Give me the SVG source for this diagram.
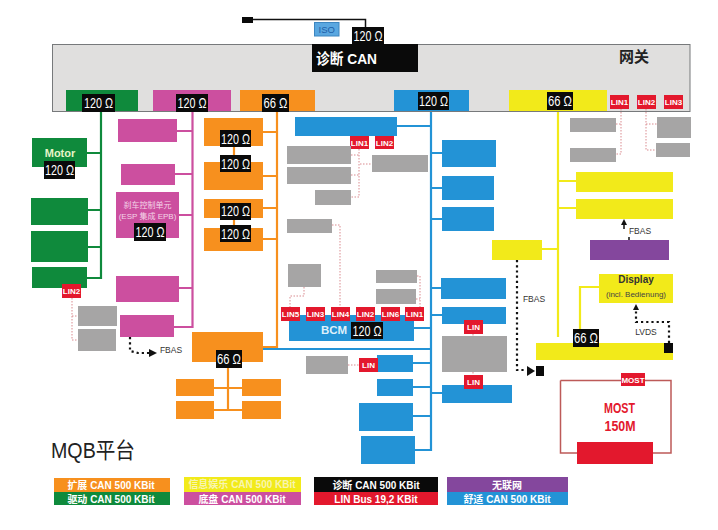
<svg xmlns="http://www.w3.org/2000/svg" width="718" height="530" viewBox="0 0 718 530">
<style>
text{font-family:"Liberation Sans","Noto Sans CJK SC",sans-serif;text-anchor:middle}
.gn{fill:#0f8a3c}.pk{fill:#cc4f9f}.or{fill:#f7901e}.bl{fill:#2393d6}.ye{fill:#f2ea1a}.gr{fill:#a6a5a5}.rd{fill:#e3182d}.bk{fill:#0a0a0a}.pu{fill:#84479d}
.r{font-size:14px;fill:#fff}
.l{font-size:8px;font-weight:bold;fill:#fff}
.c{font-size:8.5px;fill:#333}
.w{font-size:11px;font-weight:bold;fill:#fff}
.lg{font-size:10px;font-weight:bold;fill:#fff}
.m{font-size:15px;font-weight:bold;fill:#e3182d}
.bus{fill:none;stroke-width:2.2}
.sg{stroke:#0f8a3c}.sp{stroke:#cc4f9f}.so{stroke:#f7901e}.sb{stroke:#2393d6}.sy{stroke:#f2ea1a}
.dot{fill:none;stroke:#d98a8f;stroke-width:1;stroke-dasharray:1.5 1.5}
.blk{fill:none;stroke:#111;stroke-width:2.2;stroke-dasharray:2.2 3}
</style>
<defs>
<marker id="ah" markerUnits="userSpaceOnUse" markerWidth="8" markerHeight="8" refX="7" refY="4" orient="auto"><path d="M0 0L8 4L0 8Z" fill="#111"/></marker>
</defs>

<g id="gateway">
<rect x="52.500" y="44.500" width="637.500" height="67" fill="#e0dfde" stroke="#77797b"/>
<text x="634" y="62" font-size="15" font-weight="bold" fill="#222">网关</text>
</g>

<g id="connectors">
<path d="M253 19.500H365.500V27" fill="none" stroke="#111" stroke-width="1.500"/>
<path class="bus sg" d="M101 112V278H87M87 153H101M88 210H101M88 247H101"/>
<path class="bus sp" d="M192.500 112V327H174M177 131H192.500M175 174H192.500M179 215H192.500M179 288H192.500"/>
<path class="bus so" d="M277 112V347H263M263 132H277M263 176H277M263 208H277M263 239H277M234 146V155M234 218V226"/>
<path class="bus so" d="M228 368V411M214 388H242M214 410H242"/>
<path class="bus sb" d="M431 112V450H415M397 126H431M431 153H442M431 188H442M431 219H442M431 288H441M431 315H442M431 393H442M263 349H431M414 328H431M413 363H431M413 387H431M413 416H431"/>
<path class="bus sy" d="M558 112V337M558 181H576M558 208H576M542 249H558M580 329V287H599"/>
<path class="dot" d="M72 298V340H78M72 316H78"/>
<path class="dot" d="M359 149V197H351M351 155H359M351 175H359M360 164H372M332 225H340V307"/>
<path class="dot" d="M304 287V296H290V307M417 276H420V307M416 299H420M348 365H359M473 334V336M473 372V374"/>
<path class="dot" d="M621 109V154H616M616 124H621M646 109V150H656M646 124H657"/>
<path class="blk" d="M130 337V351L138 353H156" marker-end="url(#ah)"/>
<path class="blk" d="M517 260V370H526"/>
<path d="M527 366L535 371L527 376Z" fill="#111"/>
<path class="blk" d="M669 343V322H636V309"/>
<path d="M636 304L633 310H639Z" fill="#111"/>
<path d="M624 219L621 225H627Z" fill="#111"/>
<path d="M624 225V229M629 237V240" stroke="#111" stroke-width="1.500"/>
<path d="M560.500 380.500H671V453H653M577 453H560.500V380.500" fill="none" stroke="#bd5a58" stroke-width="1.500"/>
</g>

<g id="diag-end"><rect class="bk" x="242" y="17" width="11" height="6"/></g>
<g id="iso"><rect x="314.500" y="22.500" width="24.500" height="13.500" fill="#5aa7e0" stroke="#3d86c0"/><text x="326.800" y="33" font-size="9.500" fill="#1f5fa8">ISO</text></g>
<g id="diag-can">
<rect class="bk" x="352" y="27" width="32" height="17"/><text class="r" x="368" y="41" textLength="29" lengthAdjust="spacingAndGlyphs">120 Ω</text>
<rect class="bk" x="312" y="44" width="106" height="28"/><text x="346.500" y="64" font-size="15" font-weight="bold" fill="#fff" textLength="61" lengthAdjust="spacingAndGlyphs">诊断 CAN</text>
</g>

<g id="gw-green"><rect class="gn" x="66" y="90" width="72" height="21"/><rect class="bk" x="82" y="94" width="33" height="18"/><text class="r" x="98.500" y="108" textLength="29" lengthAdjust="spacingAndGlyphs">120 Ω</text></g>
<g id="gw-pink"><rect class="pk" x="153" y="90" width="78" height="21"/><rect class="bk" x="176" y="94" width="32" height="18"/><text class="r" x="192" y="108" textLength="29" lengthAdjust="spacingAndGlyphs">120 Ω</text></g>
<g id="gw-orange"><rect class="or" x="240" y="90" width="75" height="21"/><rect class="bk" x="262" y="94" width="27" height="18"/><text class="r" x="275.500" y="108" textLength="24" lengthAdjust="spacingAndGlyphs">66 Ω</text></g>
<g id="gw-blue"><rect class="bl" x="394" y="90" width="75" height="21"/><rect class="bk" x="418" y="92" width="31" height="18"/><text class="r" x="433.500" y="106" textLength="29" lengthAdjust="spacingAndGlyphs">120 Ω</text></g>
<g id="gw-yellow"><rect class="ye" x="509" y="90" width="98" height="21"/><rect class="bk" x="547" y="92" width="26" height="18"/><text class="r" x="560" y="106" textLength="24" lengthAdjust="spacingAndGlyphs">66 Ω</text></g>
<g id="gw-lin1"><rect class="rd" x="610" y="95" width="19" height="14"/><text class="l" x="619.500" y="105">LIN1</text></g>
<g id="gw-lin2"><rect class="rd" x="637" y="95" width="19" height="14"/><text class="l" x="646.500" y="105">LIN2</text></g>
<g id="gw-lin3"><rect class="rd" x="664" y="95" width="19" height="14"/><text class="l" x="673.500" y="105">LIN3</text></g>

<g id="motor"><rect class="gn" x="32" y="138" width="55" height="29"/><text class="w" x="60" y="157" style="fill:#e8f5c8">Motor</text><rect class="bk" x="44" y="161" width="31" height="18"/><text class="r" x="59.500" y="175" textLength="29" lengthAdjust="spacingAndGlyphs">120 Ω</text></g>
<g id="green-2"><rect class="gn" x="31" y="198" width="57" height="27"/></g>
<g id="green-3"><rect class="gn" x="31" y="231" width="57" height="31"/></g>
<g id="green-4"><rect class="gn" x="32" y="267" width="55" height="21"/><rect class="rd" x="62" y="284" width="19" height="14"/><text class="l" x="71.500" y="294">LIN2</text></g>
<g id="green-lin-a"><rect class="gr" x="78" y="306" width="39" height="20"/></g>
<g id="green-lin-b"><rect class="gr" x="78" y="329" width="38" height="22"/></g>

<g id="pink-1"><rect class="pk" x="118" y="119" width="59" height="23"/></g>
<g id="pink-2"><rect class="pk" x="121" y="164" width="54" height="21"/></g>
<g id="brake"><rect class="pk" x="116" y="192" width="63" height="46"/>
<text x="147.500" y="208" font-size="8" fill="#f4d5e8">刹车控制单元</text><text x="147.500" y="219" font-size="8" fill="#f4d5e8">(ESP 集成 EPB)</text>
<rect class="bk" x="134" y="223" width="32" height="18"/><text class="r" x="150" y="237" textLength="29" lengthAdjust="spacingAndGlyphs">120 Ω</text></g>
<g id="pink-4"><rect class="pk" x="116" y="276" width="63" height="26"/></g>
<g id="pink-5"><rect class="pk" x="120" y="315" width="54" height="22"/></g>
<text class="c" x="171" y="353">FBAS</text>

<g id="or-1"><rect class="or" x="204" y="118" width="59" height="28"/><rect class="bk" x="220" y="130" width="31" height="17"/><text class="r" x="235.500" y="144" textLength="29" lengthAdjust="spacingAndGlyphs">120 Ω</text></g>
<g id="or-2"><rect class="or" x="204" y="162" width="59" height="28"/><rect class="bk" x="220" y="155" width="31" height="17"/><text class="r" x="235.500" y="169" textLength="29" lengthAdjust="spacingAndGlyphs">120 Ω</text></g>
<g id="or-3"><rect class="or" x="204" y="199" width="59" height="19"/><rect class="bk" x="220" y="203" width="31" height="17"/><text class="r" x="235.500" y="216" textLength="29" lengthAdjust="spacingAndGlyphs">120 Ω</text></g>
<g id="or-4"><rect class="or" x="204" y="228" width="59" height="23"/><rect class="bk" x="220" y="225" width="31" height="17"/><text class="r" x="235.500" y="239" textLength="29" lengthAdjust="spacingAndGlyphs">120 Ω</text></g>
<g id="or-hub"><rect class="or" x="192" y="332" width="71" height="30"/><rect class="bk" x="216" y="350" width="26" height="18"/><text class="r" x="229" y="364" textLength="24" lengthAdjust="spacingAndGlyphs">66 Ω</text></g>
<g id="or-a"><rect class="or" x="176" y="379" width="38" height="17"/></g>
<g id="or-b"><rect class="or" x="242" y="379" width="39" height="17"/></g>
<g id="or-c"><rect class="or" x="176" y="401" width="38" height="18"/></g>
<g id="or-d"><rect class="or" x="242" y="401" width="39" height="18"/></g>

<g id="blue-top"><rect class="bl" x="295" y="117" width="102" height="19"/>
<rect class="rd" x="350" y="136" width="19" height="13"/><text class="l" x="359.500" y="145.500">LIN1</text>
<rect class="rd" x="375" y="136" width="19" height="13"/><text class="l" x="384.500" y="145.500">LIN2</text></g>
<g id="gr-1"><rect class="gr" x="287" y="146" width="64" height="18"/></g>
<g id="gr-2"><rect class="gr" x="287" y="167" width="64" height="17"/></g>
<g id="gr-3"><rect class="gr" x="315" y="190" width="36" height="15"/></g>
<g id="gr-4"><rect class="gr" x="372" y="155" width="56" height="17"/></g>
<g id="gr-5"><rect class="gr" x="287" y="219" width="45" height="14"/></g>
<g id="gr-6"><rect class="gr" x="288" y="264" width="33" height="23"/></g>
<g id="gr-7"><rect class="gr" x="376" y="270" width="41" height="13"/></g>
<g id="gr-8"><rect class="gr" x="376" y="289" width="40" height="15"/></g>

<g id="bcm"><rect class="bl" x="289" y="315" width="125" height="26"/>
<text x="334" y="334" font-size="11.500" font-weight="bold" fill="#dff0fa">BCM</text>
<rect class="bk" x="351" y="322" width="32" height="17"/><text class="r" x="367" y="336" textLength="29" lengthAdjust="spacingAndGlyphs">120 Ω</text>
<rect class="rd" x="281" y="307" width="19" height="14"/><text class="l" x="290.500" y="317">LIN5</text>
<rect class="rd" x="306" y="307" width="19" height="14"/><text class="l" x="315.500" y="317">LIN3</text>
<rect class="rd" x="331" y="307" width="19" height="14"/><text class="l" x="340.500" y="317">LIN4</text>
<rect class="rd" x="356" y="307" width="19" height="14"/><text class="l" x="365.500" y="317">LIN2</text>
<rect class="rd" x="381" y="307" width="19" height="14"/><text class="l" x="390.500" y="317">LIN6</text>
<rect class="rd" x="405" y="307" width="19" height="14"/><text class="l" x="414.500" y="317">LIN1</text></g>

<g id="gr-9"><rect class="gr" x="306" y="356" width="42" height="18"/></g>
<g id="bl-a"><rect class="bl" x="377" y="355" width="36" height="17"/><rect class="rd" x="359" y="358" width="19" height="14"/><text class="l" x="368.500" y="368">LIN</text></g>
<g id="bl-b"><rect class="bl" x="377" y="379" width="36" height="17"/></g>
<g id="bl-c"><rect class="bl" x="359" y="403" width="54" height="28"/></g>
<g id="bl-d"><rect class="bl" x="361" y="436" width="54" height="28"/></g>

<g id="br-1"><rect class="bl" x="442" y="140" width="54" height="27"/></g>
<g id="br-2"><rect class="bl" x="442" y="176" width="52" height="24"/></g>
<g id="br-3"><rect class="bl" x="442" y="207" width="52" height="24"/></g>
<g id="br-4"><rect class="bl" x="441" y="278" width="65" height="21"/></g>
<g id="br-5"><rect class="bl" x="442" y="307" width="64" height="17"/><rect class="rd" x="464" y="320" width="19" height="14"/><text class="l" x="473.500" y="330">LIN</text></g>
<g id="br-6"><rect class="gr" x="442" y="336" width="65" height="36"/></g>
<g id="br-7"><rect class="bl" x="442" y="385" width="70" height="18"/><rect class="rd" x="464" y="375" width="19" height="14"/><text class="l" x="473.500" y="385">LIN</text></g>

<g id="yl-gr-1"><rect class="gr" x="570" y="118" width="46" height="14"/></g>
<g id="yl-gr-2"><rect class="gr" x="570" y="148" width="46" height="14"/></g>
<g id="yl-gr-3"><rect class="gr" x="657" y="117" width="34" height="21"/></g>
<g id="yl-gr-4"><rect class="gr" x="656" y="143" width="34" height="14"/></g>
<g id="yl-1"><rect class="ye" x="576" y="172" width="97" height="20"/></g>
<g id="yl-2"><rect class="ye" x="576" y="199" width="97" height="20"/></g>
<text class="c" x="640" y="234">FBAS</text>
<g id="purple"><rect class="pu" x="590" y="240" width="79" height="20"/></g>
<g id="yl-3"><rect class="ye" x="492" y="240" width="50" height="20"/></g>
<text class="c" x="534" y="302">FBAS</text>
<g id="fbas-end"><rect class="bk" x="536" y="366" width="8" height="10"/></g>
<g id="display"><rect class="ye" x="599" y="274" width="74" height="29"/>
<text x="636" y="283" font-size="10" font-weight="bold" fill="#333">Display</text><text x="636" y="297" font-size="8" fill="#444">(incl. Bedienung)</text></g>
<g id="yl-bar"><rect class="ye" x="536" y="343" width="137" height="17"/>
<rect class="bk" x="573" y="329" width="26" height="18"/><text class="r" x="586" y="343" textLength="24" lengthAdjust="spacingAndGlyphs">66 Ω</text>
<rect class="bk" x="664" y="343" width="9" height="10"/></g>
<text class="c" x="646" y="335">LVDS</text>

<g id="most"><rect class="rd" x="621" y="373" width="24" height="13"/><text class="l" x="633" y="383">MOST</text>
<text class="m" x="619.500" y="413" textLength="31" lengthAdjust="spacingAndGlyphs">MOST</text>
<text class="m" x="620" y="431" textLength="31" lengthAdjust="spacingAndGlyphs">150M</text>
<rect class="rd" x="577" y="442" width="76" height="22"/></g>

<text x="93" y="458" font-size="22" fill="#222" textLength="84" lengthAdjust="spacingAndGlyphs">MQB平台</text>

<g id="legend">
<rect class="or" x="54" y="478" width="116" height="14"/><text class="lg" x="111" y="489">扩展 CAN 500 KBit</text>
<rect class="gn" x="54" y="492" width="116" height="13"/><text class="lg" x="111" y="503">驱动 CAN 500 KBit</text>
<rect class="ye" x="184" y="477" width="117" height="15"/><text class="lg" x="242" y="488" style="fill:#f8f5b0">信息娱乐 CAN 500 KBit</text>
<rect class="pk" x="184" y="492" width="117" height="13"/><text class="lg" x="242" y="503">底盘 CAN 500 KBit</text>
<rect class="bk" x="314" y="477" width="124" height="15"/><text class="lg" x="376" y="489">诊断 CAN 500 KBit</text>
<rect class="rd" x="314" y="492" width="124" height="13"/><text class="lg" x="376" y="503">LIN Bus 19,2 KBit</text>
<rect class="pu" x="447" y="477" width="121" height="15"/><text class="lg" x="507" y="489">无联网</text>
<rect class="bl" x="447" y="492" width="121" height="13"/><text class="lg" x="507" y="503">舒适 CAN 500 KBit</text>
</g>
</svg>
